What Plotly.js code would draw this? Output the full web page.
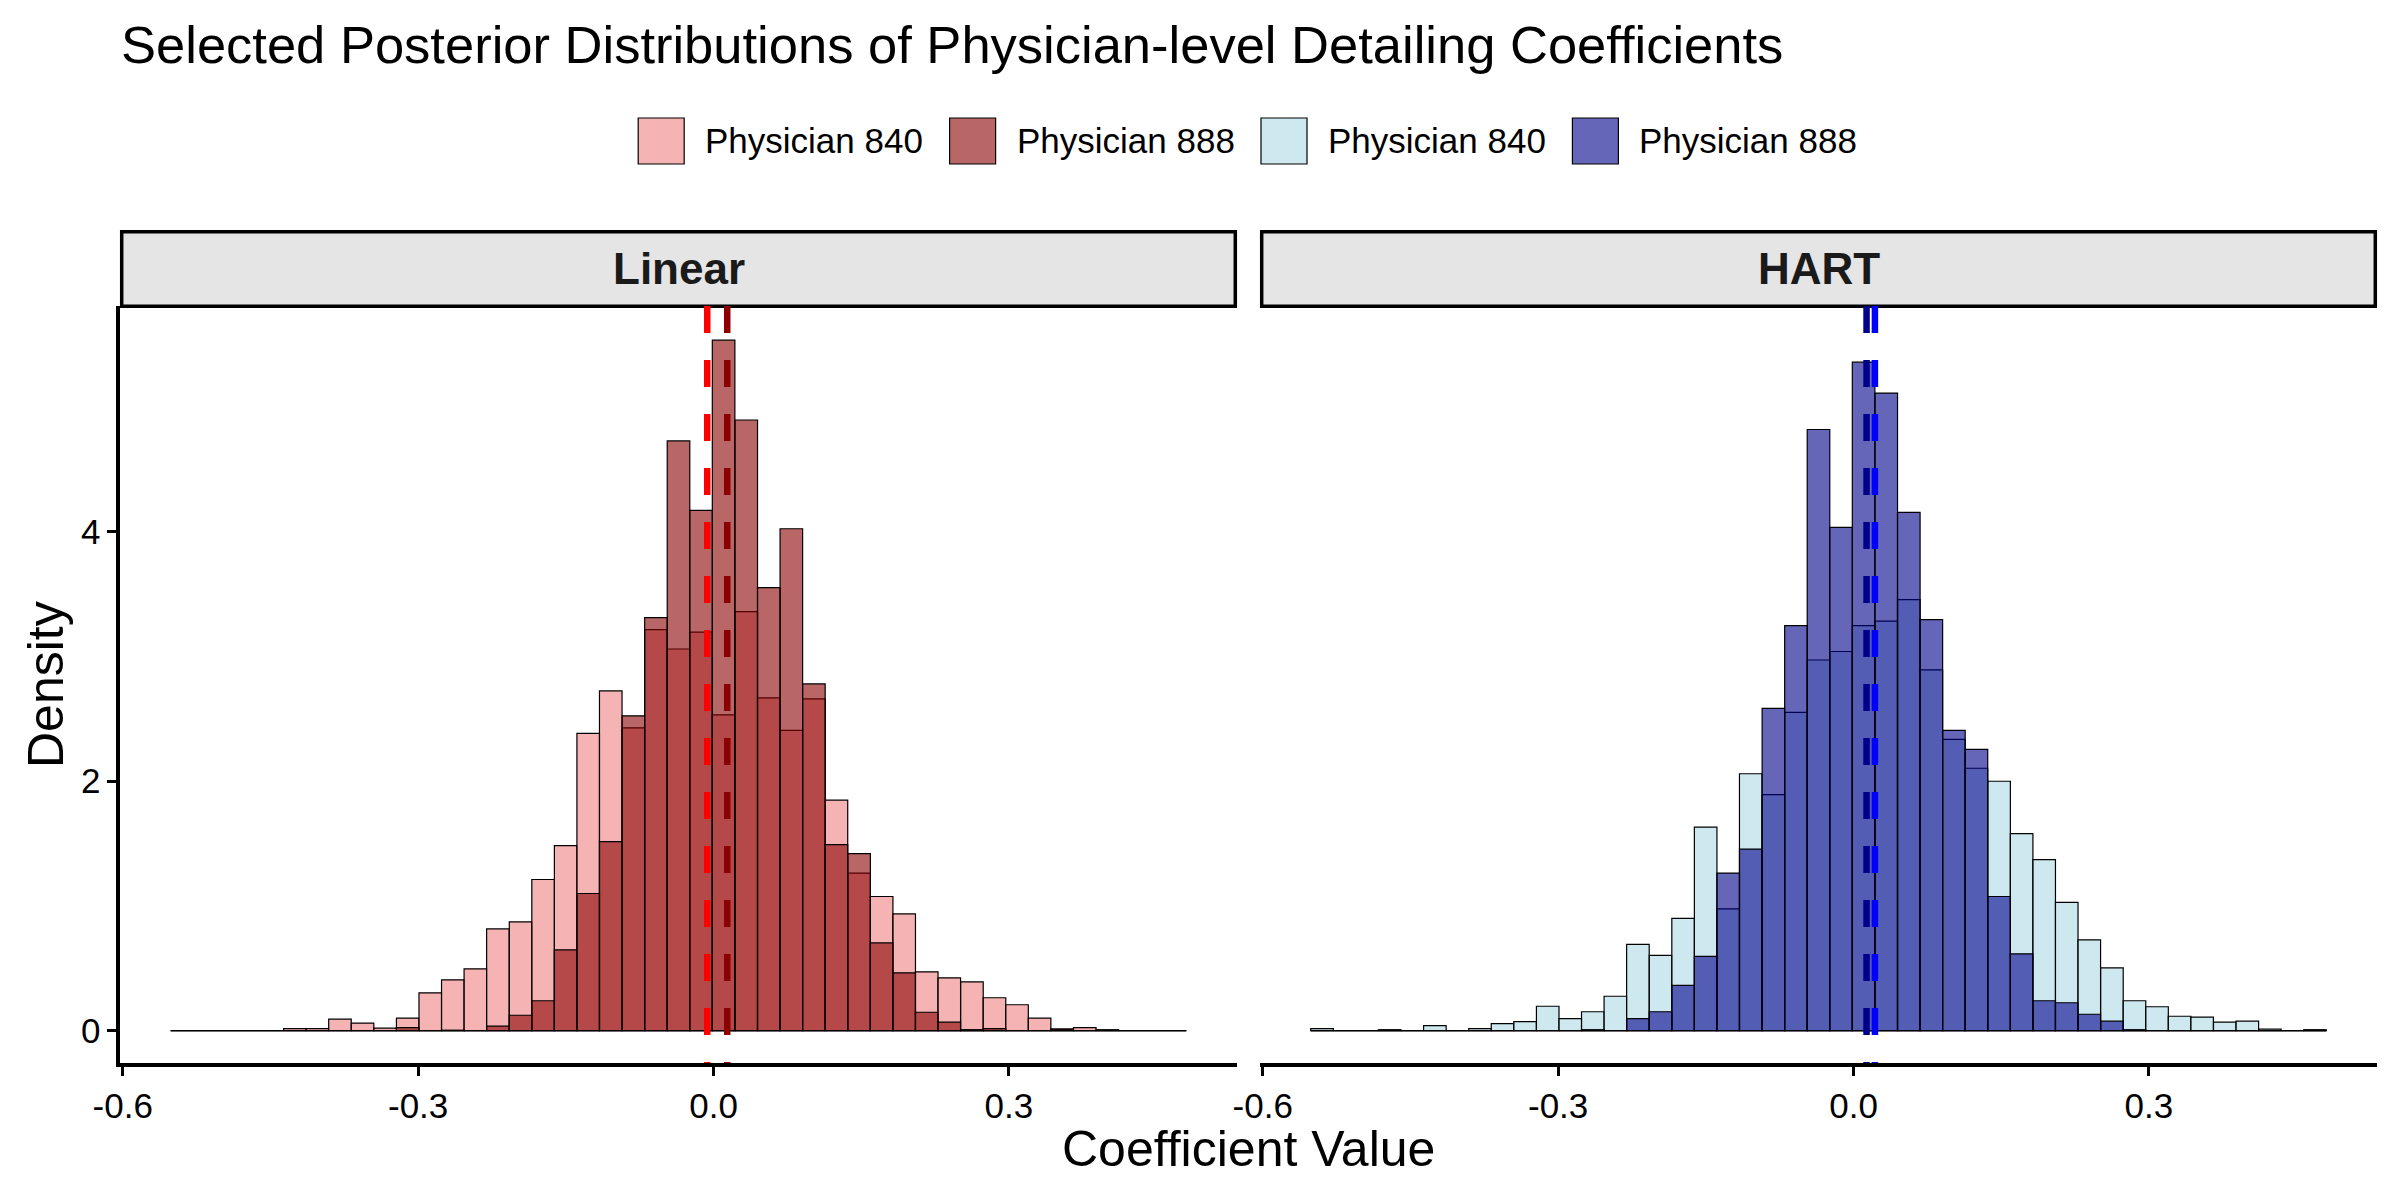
<!DOCTYPE html>
<html>
<head>
<meta charset="utf-8">
<script src="https://cdn.plot.ly/plotly-3.0.1.min.js"></script>
<style>html,body{margin:0;padding:0;background:#fff;}#chart{width:2400px;height:1200px;}</style>
</head>
<body>
<div id="chart"></div>
<script>
// ---------------- data ----------------
const binCenters = [-0.5398,-0.5169,-0.4940,-0.4711,-0.4482,-0.4252,-0.4023,-0.3794,-0.3565,-0.3336,
  -0.3106,-0.2877,-0.2648,-0.2419,-0.2190,-0.1960,-0.1731,-0.1502,-0.1273,-0.1044,
  -0.0814,-0.0585,-0.0356,-0.0127,0.0102,0.0332,0.0561,0.0790,0.1019,0.1248,
  0.1478,0.1707,0.1936,0.2165,0.2394,0.2624,0.2853,0.3082,0.3311,0.3540,
  0.3770,0.3999,0.4228,0.4457,0.4686];
const binWidth = 0.02292;

const linear840 = [0,0,0,0,0,0.016,0.016,0.092,0.06,0.02,
  0.10,0.304,0.408,0.496,0.816,0.872,1.212,1.484,2.384,2.724,
  2.428,3.216,3.06,3.196,2.532,3.36,2.668,2.408,2.66,1.848,
  1.264,1.076,0.936,0.472,0.424,0.392,0.264,0.208,0.10,0.012,
  0.024,0,0,0,0];
const linear888 = [0,0,0,0,0,0,0,0,0,0,
  0.024,0,0.004,0,0.036,0.124,0.24,0.648,1.10,1.516,
  2.524,3.312,4.728,4.172,5.536,4.896,3.552,4.024,2.78,1.492,
  1.42,0.704,0.464,0.148,0.068,0.008,0.016,0,0,0.012,
  0,0.008,0,0,0];
const hart840 = [0.016,0,0,0,0,0.04,0,0.016,0.056,0.072,
  0.196,0.096,0.152,0.276,0.692,0.604,0.90,1.632,0.976,2.06,
  1.892,2.552,2.972,3.04,3.248,3.284,3.456,2.892,2.336,2.104,
  2.0,1.58,1.372,1.028,0.728,0.504,0.24,0.192,0.116,0.108,
  0.068,0.076,0.012,0,0];
const hart888 = [0,0,0,0.008,0,0,0,0,0,0,
  0,0,0.008,0,0.096,0.152,0.364,0.596,1.264,1.456,
  2.584,3.248,4.82,4.036,5.36,5.112,4.156,3.296,2.408,2.256,
  1.076,0.616,0.24,0.224,0.132,0.076,0.008,0,0,0,
  0,0,0,0,0.008];

const meanLinear840 = -0.0064;
const meanLinear888 = 0.0139;
const meanHart840 = 0.0217;
const meanHart888 = 0.0132;

const panelNames = ["Linear", "HART"];
const legendLabels = ["Physician 840", "Physician 888", "Physician 840", "Physician 888"];
const xTickVals = [-0.6, -0.3, 0.0, 0.3];
const xTickText = ["-0.6", "-0.3", "0.0", "0.3"];
const yTickVals = [0, 2, 4];
const yTickText = ["0", "2", "4"];

// ---------------- styles ----------------
const FONT = "Liberation Sans, Arial, Helvetica, sans-serif";
const fillPink = "rgba(240,128,128,0.6)";
const fillDarkRed = "rgba(139,0,0,0.6)";
const fillLightBlue = "rgba(173,216,230,0.6)";
const fillDarkBlue = "rgba(0,0,139,0.6)";
const keyColors = ["#F6B3B3", "#B96666", "#CEE8F0", "#6666B9"];

const W = 2400, H = 1200;
const px = v => v / W;
const py = v => 1 - v / H;

function barTrace(y, color, xa, ya, name) {
  return {
    type: "bar", x: binCenters, y: y, width: binWidth, name: name,
    xaxis: xa, yaxis: ya, showlegend: false, hoverinfo: "skip",
    marker: { color: color, line: { color: "black", width: 1.2 } }
  };
}
function baseline(xa, ya) {
  const lo = binCenters[0] - binWidth / 2;
  const hi = binCenters[binCenters.length - 1] + binWidth / 2;
  return { type: "scatter", mode: "lines", x: [lo, hi], y: [0, 0], xaxis: xa, yaxis: ya,
    line: { color: "black", width: 1.2 }, showlegend: false, hoverinfo: "skip" };
}

const traces = [
  baseline("x", "y"),
  barTrace(linear840, fillPink, "x", "y", legendLabels[0]),
  barTrace(linear888, fillDarkRed, "x", "y", legendLabels[1]),
  baseline("x2", "y2"),
  barTrace(hart840, fillLightBlue, "x2", "y2", legendLabels[2]),
  barTrace(hart888, fillDarkBlue, "x2", "y2", legendLabels[3])
];

const xRange = [-0.6029, 0.5317];
const yRange = [-0.259, 5.81];
const yDomain = [py(1063), py(306)];

function xAxis(domain, anchor) {
  return {
    domain: domain, anchor: anchor, range: xRange,
    tickmode: "array", tickvals: xTickVals, ticktext: xTickText,
    ticks: "outside", ticklen: 9, tickwidth: 3, tickcolor: "black",
    showline: true, linewidth: 3.5, linecolor: "black",
    showgrid: false, zeroline: false,
    tickfont: { family: FONT, size: 35, color: "black" }
  };
}

const vline = (xref, x, color) => ({
  type: "line", xref: xref, yref: xref === "x" ? "y domain" : "y2 domain",
  x0: x, x1: x, y0: 1, y1: 0,
  line: { color: color, width: 6.5, dash: "27px,27px" }
});

const strip = (x0, x1) => ({
  type: "rect", xref: "paper", yref: "paper",
  x0: px(x0), x1: px(x1), y0: py(306.3), y1: py(231.7),
  fillcolor: "#E5E5E5", line: { color: "black", width: 3.5 }
});

const shapes = [
  strip(121.7, 1235.3), strip(1261.7, 2375.3),
  vline("x", meanLinear840, "#FF0000"),
  vline("x", meanLinear888, "#8B0000"),
  vline("x2", meanHart888, "#00008B"),
  vline("x2", meanHart840, "#0000FF")
];

const annotations = [
  { text: "<b>" + panelNames[0] + "</b>", xref: "paper", yref: "paper", x: px(678.5), y: py(269),
    showarrow: false, xanchor: "center", yanchor: "middle", font: { family: FONT, size: 44, color: "#1A1A1A" } },
  { text: "<b>" + panelNames[1] + "</b>", xref: "paper", yref: "paper", x: px(1818.5), y: py(269),
    showarrow: false, xanchor: "center", yanchor: "middle", font: { family: FONT, size: 44, color: "#1A1A1A" } },
  { text: "Coefficient Value", xref: "paper", yref: "paper", x: px(1248.5), y: py(1149),
    showarrow: false, xanchor: "center", yanchor: "middle", font: { family: FONT, size: 50, color: "black" } },
  { text: "Density", xref: "paper", yref: "paper", x: px(46), y: py(685), textangle: -90,
    showarrow: false, xanchor: "center", yanchor: "middle", font: { family: FONT, size: 50, color: "black" } }
];

// legend (keys + labels)
const keyLeft0 = 638.2, keyStep = 311.4, keySize = 46, keyCy = 141;
legendLabels.forEach((lab, i) => {
  const kl = keyLeft0 + i * keyStep;
  shapes.push({ type: "rect", xref: "paper", yref: "paper",
    x0: px(kl), x1: px(kl + keySize), y0: py(keyCy + keySize / 2), y1: py(keyCy - keySize / 2),
    fillcolor: keyColors[i], line: { color: "black", width: 1.2 } });
  annotations.push({ text: lab, xref: "paper", yref: "paper", x: px(kl + 65), y: py(keyCy),
    showarrow: false, xanchor: "left", yanchor: "middle", font: { family: FONT, size: 35, color: "black" } });
});

const layout = {
  width: W, height: H,
  margin: { l: 0, r: 0, t: 0, b: 0 },
  paper_bgcolor: "white", plot_bgcolor: "white",
  barmode: "overlay", bargap: 0,
  showlegend: false,
  font: { family: FONT, color: "black" },
  title: { text: "Selected Posterior Distributions of Physician-level Detailing Coefficients",
    xref: "container", yref: "container", x: px(121), xanchor: "left", y: 1 - 44.8 / H, yanchor: "middle",
    font: { family: FONT, size: 52.5, color: "black" } },
  xaxis: xAxis([px(119.9), px(1237.1)], "y"),
  xaxis2: xAxis([px(1259.9), px(2377.1)], "y2"),
  yaxis: {
    domain: yDomain, anchor: "x", range: yRange,
    tickmode: "array", tickvals: yTickVals, ticktext: yTickText,
    ticks: "outside", ticklen: 9, tickwidth: 3, tickcolor: "black",
    showline: true, linewidth: 3.5, linecolor: "black",
    showgrid: false, zeroline: false,
    tickfont: { family: FONT, size: 35, color: "black" }
  },
  yaxis2: {
    domain: yDomain, anchor: "x2", range: yRange,
    showticklabels: false, ticks: "", showline: false, showgrid: false, zeroline: false
  },
  shapes: shapes,
  annotations: annotations
};

Plotly.newPlot("chart", traces, layout, { staticPlot: true, displayModeBar: false });
</script>
</body>
</html>
